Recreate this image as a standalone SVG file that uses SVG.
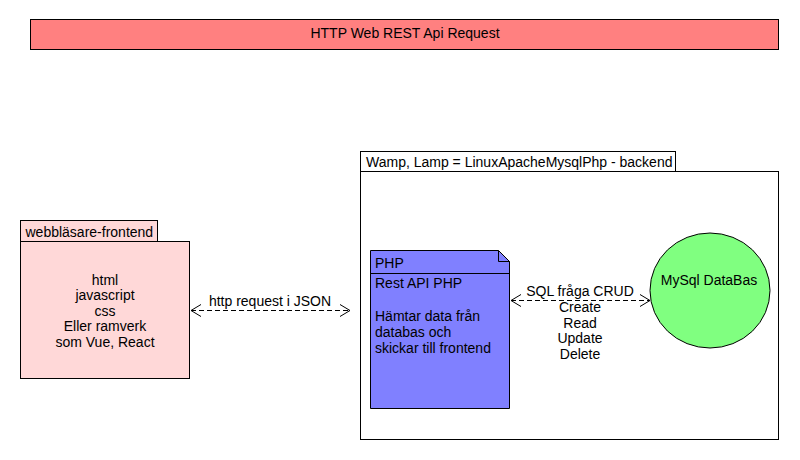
<svg xmlns="http://www.w3.org/2000/svg" width="800" height="460" viewBox="0 0 800 460">
<defs>
<style>
text{font-family:"Liberation Sans",Arial,sans-serif;font-size:14px;fill:#000}
.c{text-anchor:middle}
.s{stroke:#000;stroke-width:1}
.d{stroke:#000;stroke-width:1;stroke-dasharray:5,3;fill:none}
.h{stroke:#000;stroke-width:1;fill:none}
</style>
<marker id="ah" markerWidth="12" markerHeight="14" refX="11" refY="7" orient="auto-start-reverse" markerUnits="userSpaceOnUse">
<path d="M1,1 L11,7 L1,13" class="h"/>
</marker>
</defs>
<rect width="800" height="460" fill="#fff"/>
<g id="title">
<rect x="30.5" y="19.5" width="748" height="30" fill="#FF8080" class="s"/>
<text x="405" y="38" class="c">HTTP Web REST Api Request</text>
</g>
<g id="backend">
<rect x="360.5" y="151.5" width="315" height="20" fill="#fff" class="s"/>
<rect x="360.5" y="171.5" width="418" height="268" fill="#fff" class="s"/>
<text x="366" y="166.5">Wamp, Lamp = LinuxApacheMysqlPhp - backend</text>
</g>
<g id="frontend">
<rect x="20.5" y="220.5" width="137" height="21" fill="#FFD8D8" class="s"/>
<rect x="20.5" y="241.5" width="169" height="137" fill="#FFD8D8" class="s"/>
<text x="25.5" y="236.5">webbläsare-frontend</text>
<text x="105" y="285" class="c">html</text>
<text x="105" y="300" class="c">javascript</text>
<text x="105" y="315.5" class="c">css</text>
<text x="105" y="331" class="c">Eller ramverk</text>
<text x="105" y="346.5" class="c">som Vue, React</text>
</g>
<g id="php">
<path d="M370.5,250.5 H498.5 L509.5,261.5 V408.5 H370.5 Z" fill="#8080FF" class="s"/>
<path d="M498.5,250.5 V261.5 H509.5" class="h"/>
<line x1="370.5" y1="273.5" x2="509.5" y2="273.5" class="s"/>
<text x="375" y="268">PHP</text>
<text x="375" y="288">Rest API PHP</text>
<text x="375" y="321">Hämtar data från</text>
<text x="375" y="337">databas och</text>
<text x="375" y="352.5">skickar till frontend</text>
</g>
<g id="mysql">
<ellipse cx="710" cy="290.5" rx="60" ry="57.5" fill="#80FF80" class="s"/>
<text x="709" y="284.5" class="c">MySql DataBas</text>
</g>
<g id="connectors">
<line x1="191" y1="310.5" x2="350" y2="310.5" class="d" marker-start="url(#ah)" marker-end="url(#ah)"/>
<text x="270" y="306" class="c">http request i JSON</text>
<line x1="511" y1="300.5" x2="650" y2="300.5" class="d" marker-start="url(#ah)" marker-end="url(#ah)"/>
<text x="580" y="296" class="c">SQL fråga CRUD</text>
<text x="580" y="312" class="c">Create</text>
<text x="580" y="327.5" class="c">Read</text>
<text x="580" y="343" class="c">Update</text>
<text x="580" y="359" class="c">Delete</text>
</g>
</svg>
